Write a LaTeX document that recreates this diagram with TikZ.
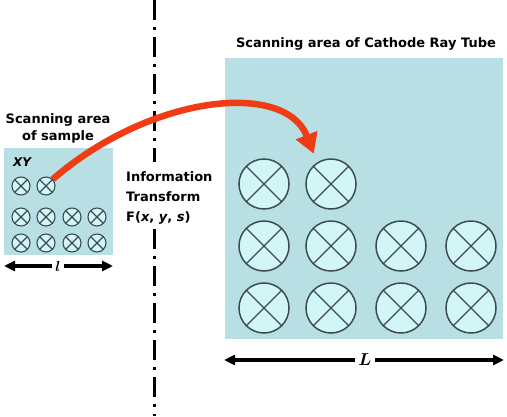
\documentclass[tikz,border=0pt]{standalone}
\usepackage{amsmath}
\usepackage{fontspec}
\setmainfont{DejaVu Sans}
\usepackage{tikz,xcolor}
\usetikzlibrary{calc,arrows.meta}
\definecolor{screen}{HTML}{B8E0E4}
\definecolor{spotfill}{HTML}{D2F6F8}
\definecolor{spotline}{HTML}{3C4C4E}
\definecolor{beam}{HTML}{F03C14}
\tikzset{
  spot/.style={circle, draw=spotline, fill=spotfill, inner sep=0pt,
    path picture={\draw[spotline, line width=1.2pt]
      (path picture bounding box.north west) -- (path picture bounding box.south east)
      (path picture bounding box.north east) -- (path picture bounding box.south west);}},
  small spot/.style={spot, line width=1.1pt, minimum size=18pt},
  big spot/.style={spot, line width=1.5pt, minimum size=50pt},
  label text/.style={font=\bfseries\fontsize{13}{17}\selectfont, inner sep=0pt},
  dimline/.style={line width=3.5pt, {Triangle[length=11pt,width=10pt]}-{Triangle[length=11pt,width=10pt]}}
}

\begin{document}
\begin{tikzpicture}[x=1pt,y=-1pt]
  \useasboundingbox (0,0) rectangle (507,416);

  % Ecrans
  \fill[screen] (4,148) rectangle (113,255);
  \fill[screen] (225,58) rectangle (503,339);

  % Linha de separacao
  \draw[line width=3pt, dash pattern=on 20pt off 7pt on 3pt off 7pt] (154,0) -- (154,162);
  \draw[line width=3pt, dash pattern=on 20pt off 7pt on 3pt off 7pt] (154,229) -- (154,416);

  % Textos
  \node[label text, align=center] (sampletitle) at (58,128) {Scanning area\\of sample};
  \node[label text, font=\bfseries\itshape\fontsize{12}{12}\selectfont] (xy) at (22,162) {XY};
  \node[label text] (crttitle) at (366,44) {Scanning area of Cathode Ray Tube};
  \node[label text, align=left, anchor=west, font=\bfseries\fontsize{13}{20}\selectfont] (transform) at (126,198)
    {Information\\Transform\\F(\textit{x}, \textit{y}, \textit{s})};

  % Pontos da amostra
  \foreach \i/\x in {1/21,2/46} \node[small spot] (s\i) at (\x,186) {};
  \foreach \i/\x in {3/21,4/46,5/72,6/97} \node[small spot] (s\i) at (\x,217) {};
  \foreach \i/\x in {7/21,8/46,9/72,10/97} \node[small spot] (s\i) at (\x,243) {};

  % Pontos do tubo
  \foreach \i/\x in {1/264,2/331} \node[big spot] (b\i) at (\x,184) {};
  \foreach \i/\x in {3/264,4/331,5/401,6/471} \node[big spot] (b\i) at (\x,246) {};
  \foreach \i/\x in {7/264,8/331,9/401,10/471} \node[big spot] (b\i) at (\x,308) {};

  % Feixe
  \coordinate (tip) at ($(b2.north west)+(1,-12)$);
  \draw[beam, line width=6.5pt, -{Triangle[length=20pt,width=22pt]}]
    (s2.north east) .. controls (150,95) and (285,80) .. (tip);

  % Dimensoes
  \coordinate (la) at (4,266);
  \coordinate (lb) at (113,266);
  \draw[dimline] (la) -- (lb);
  \node[fill=white, inner sep=3pt, font=\fontsize{15}{15}\selectfont] (lsmall) at (58,266) {$\boldsymbol{l}$};
  \coordinate (La) at (224,360);
  \coordinate (Lb) at (504,360);
  \draw[dimline] (La) -- (Lb);
  \node[fill=white, inner sep=3pt, font=\fontsize{16}{16}\selectfont] (Lbig) at (365,360) {$\boldsymbol{L}$};
\end{tikzpicture}
\end{document}
